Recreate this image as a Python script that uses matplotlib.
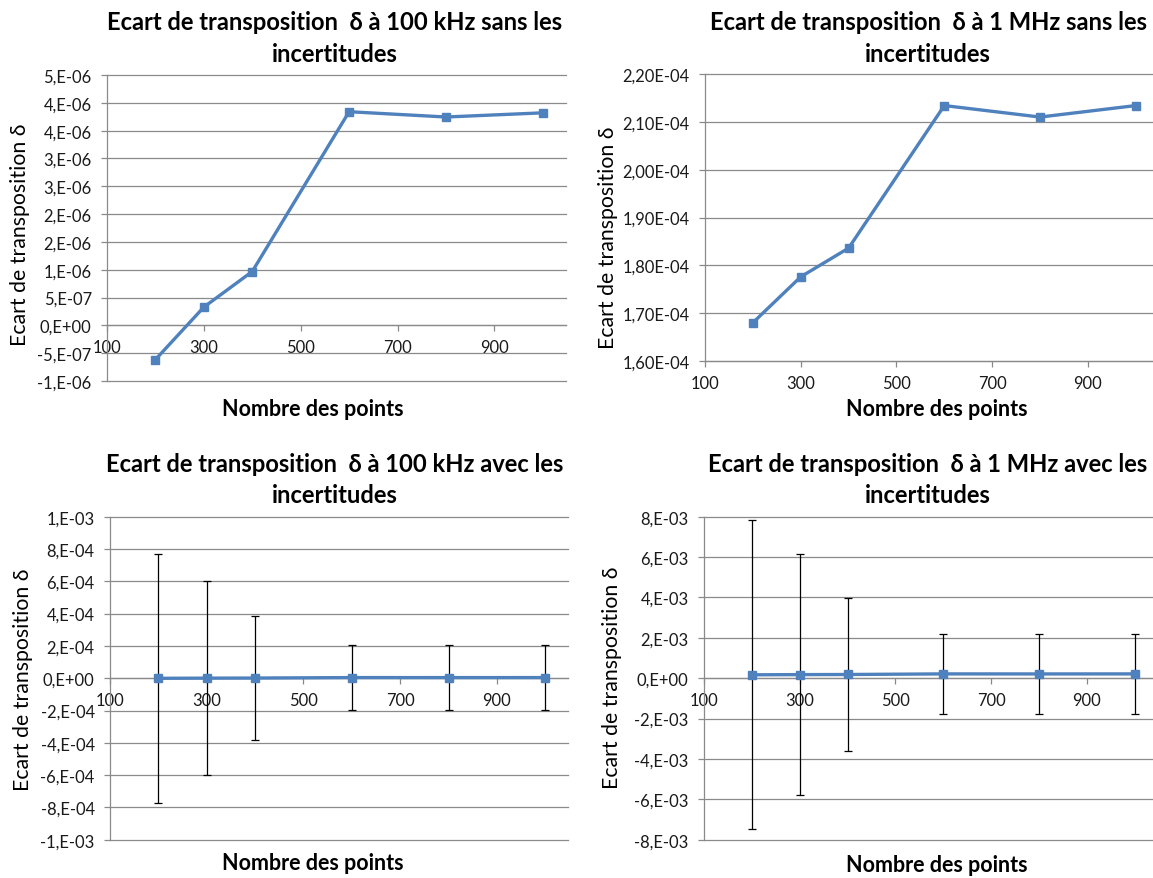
import matplotlib
matplotlib.use("Agg")
import matplotlib.pyplot as plt

# ---- data -------------------------------------------------------------
points = [200, 300, 400, 600, 800, 1000]
delta_100k = [-6.15e-7, 3.28e-7, 9.68e-7, 3.84e-6, 3.745e-6, 3.82e-6]
delta_1M = [1.680e-4, 1.776e-4, 1.836e-4, 2.134e-4, 2.110e-4, 2.134e-4]
unc_100k = [7.7e-4, 6.0e-4, 3.85e-4, 2.0e-4, 2.0e-4, 2.0e-4]
unc_1M = [7.65e-3, 5.95e-3, 3.8e-3, 1.97e-3, 1.97e-3, 1.97e-3]

x_ticks = [100, 300, 500, 700, 900]
x_ticklabels = ["100", "300", "500", "700", "900"]

yt_100k = [-1.0e-6, -5.0e-7, 0.0, 5.0e-7, 1.0e-6, 1.5e-6, 2.0e-6, 2.5e-6,
           3.0e-6, 3.5e-6, 4.0e-6, 4.5e-6]
yl_100k = ["-1,E-06", "-5,E-07", "0,E+00", "5,E-07", "1,E-06", "2,E-06",
           "2,E-06", "3,E-06", "3,E-06", "4,E-06", "4,E-06", "5,E-06"]

yt_1M = [1.6e-4, 1.7e-4, 1.8e-4, 1.9e-4, 2.0e-4, 2.1e-4, 2.2e-4]
yl_1M = ["1,60E-04", "1,70E-04", "1,80E-04", "1,90E-04", "2,00E-04",
         "2,10E-04", "2,20E-04"]

yt_100k_u = [-1.0e-3, -8e-4, -6e-4, -4e-4, -2e-4, 0.0, 2e-4, 4e-4, 6e-4,
             8e-4, 1.0e-3]
yl_100k_u = ["-1,E-03", "-8,E-04", "-6,E-04", "-4,E-04", "-2,E-04", "0,E+00",
             "2,E-04", "4,E-04", "6,E-04", "8,E-04", "1,E-03"]

yt_1M_u = [-8e-3, -6e-3, -4e-3, -2e-3, 0.0, 2e-3, 4e-3, 6e-3, 8e-3]
yl_1M_u = ["-8,E-03", "-6,E-03", "-4,E-03", "-2,E-03", "0,E+00", "2,E-03",
           "4,E-03", "6,E-03", "8,E-03"]

titles = [
    ("Ecart de transposition  \u03b4 \u00e0 100 kHz sans les", "incertitudes"),
    ("Ecart de transposition  \u03b4 \u00e0 1 MHz sans les", "incertitudes"),
    ("Ecart de transposition  \u03b4 \u00e0 100 kHz avec les", "incertitudes"),
    ("Ecart de transposition  \u03b4 \u00e0 1 MHz avec les", "incertitudes"),
]
x_title = "Nombre des points"
y_title = "Ecart de transposition \u03b4"

# ---- style ------------------------------------------------------------
FONT = ["Lato", "DejaVu Sans"]
plt.rcParams["font.family"] = FONT
BLUE = "#4F81BD"
GRID = "#8a8a8a"
W, H = 1153, 879

fig = plt.figure(figsize=(W / 100, H / 100), dpi=100)
fig.patch.set_facecolor("white")
renderer = fig.canvas.get_renderer()


def fit_size(s, target_px, **kw):
    """Font size (pt) at which string s renders target_px wide."""
    t = fig.text(0, 0, s, fontsize=12, **kw)
    w = t.get_window_extent(renderer).width
    t.remove()
    return 12 * target_px / w


TITLE_FS = fit_size(titles[0][0], 454, fontweight="bold")
XLAB_FS = fit_size(x_title, 181, fontweight="bold")
YLAB_FS = fit_size(y_title, 220)
TICK_FS = fit_size("2,20E-04", 67)


def px_axes(left, right, top, bottom):
    return fig.add_axes([left / W, 1 - bottom / H, (right - left) / W,
                         (bottom - top) / H])


def style(ax, xmax, yticks, ylabels, zero_axis):
    ax.set_xlim(100, xmax)
    ax.set_ylim(yticks[0], yticks[-1])
    ax.set_yticks(yticks)
    ax.set_yticklabels(ylabels)
    ax.set_xticks(x_ticks)
    ax.set_xticklabels(x_ticklabels)
    for s in ("top", "right"):
        ax.spines[s].set_visible(False)
    ax.spines["left"].set_color(GRID)
    ax.spines["left"].set_linewidth(0.9)
    ax.spines["bottom"].set_color(GRID)
    ax.spines["bottom"].set_linewidth(0.9)
    if zero_axis:
        ax.spines["bottom"].set_position(("data", 0))
    ax.yaxis.grid(True, color=GRID, linewidth=0.9)
    ax.set_axisbelow(True)
    ax.tick_params(axis="y", direction="out", length=4, width=0.9,
                   color=GRID, labelsize=TICK_FS, pad=7, labelcolor="#1a1a1a")
    ax.tick_params(axis="x", direction="out", length=4, width=0.9,
                   color=GRID, labelsize=TICK_FS, pad=6, labelcolor="#1a1a1a")
    for gl in ax.get_ygridlines():
        gl.set_clip_on(False)


def draw_line(ax, y):
    ax.plot(points, y, color=BLUE, linewidth=2.4, marker="s", markersize=6.2,
            markerfacecolor=BLUE, markeredgecolor=BLUE, zorder=4,
            clip_on=False)


def draw_err(ax, y, err):
    ax.errorbar(points, y, yerr=err, fmt="none", ecolor="black",
                elinewidth=0.9, capsize=3.0, capthick=0.9, zorder=3)


ax1 = px_axes(107, 566, 76, 382)
style(ax1, 1048, yt_100k, yl_100k, True)
draw_line(ax1, delta_100k)

ax2 = px_axes(705, 1153, 75, 362)
style(ax2, 1036, yt_1M, yl_1M, False)
draw_line(ax2, delta_1M)

ax3 = px_axes(110, 568, 517.7, 840.7)
style(ax3, 1047, yt_100k_u, yl_100k_u, True)
draw_err(ax3, delta_100k, unc_100k)
draw_line(ax3, delta_100k)

ax4 = px_axes(704, 1153, 517.7, 840.7)
style(ax4, 1038, yt_1M_u, yl_1M_u, True)
draw_err(ax4, delta_1M, unc_1M)
draw_line(ax4, delta_1M)


def ftext(x, y, s, **kw):
    fig.text(x / W, 1 - y / H, s, ha="center", va="center", **kw)


# chart titles (two lines each)
title_pos = [(335, 22.5, 55), (928, 22.5, 55), (335, 465, 496),
             (928, 465, 496)]
for (l1, l2), (cx, y1, y2) in zip(titles, title_pos):
    ftext(cx, y1, l1, fontsize=TITLE_FS, fontweight="bold", color="black")
    ftext(cx, y2, l2, fontsize=TITLE_FS, fontweight="bold", color="black")

# axis titles
for cx, cy in [(313, 410), (937, 410), (313, 864), (937, 866)]:
    ftext(cx, cy, x_title, fontsize=XLAB_FS, fontweight="bold", color="black")
for cx, cy in [(20, 235), (608, 238), (23, 680), (612, 678)]:
    ftext(cx, cy, y_title, fontsize=YLAB_FS, rotation=90, color="black")

fig.savefig("out.png", dpi=100, facecolor="white")
